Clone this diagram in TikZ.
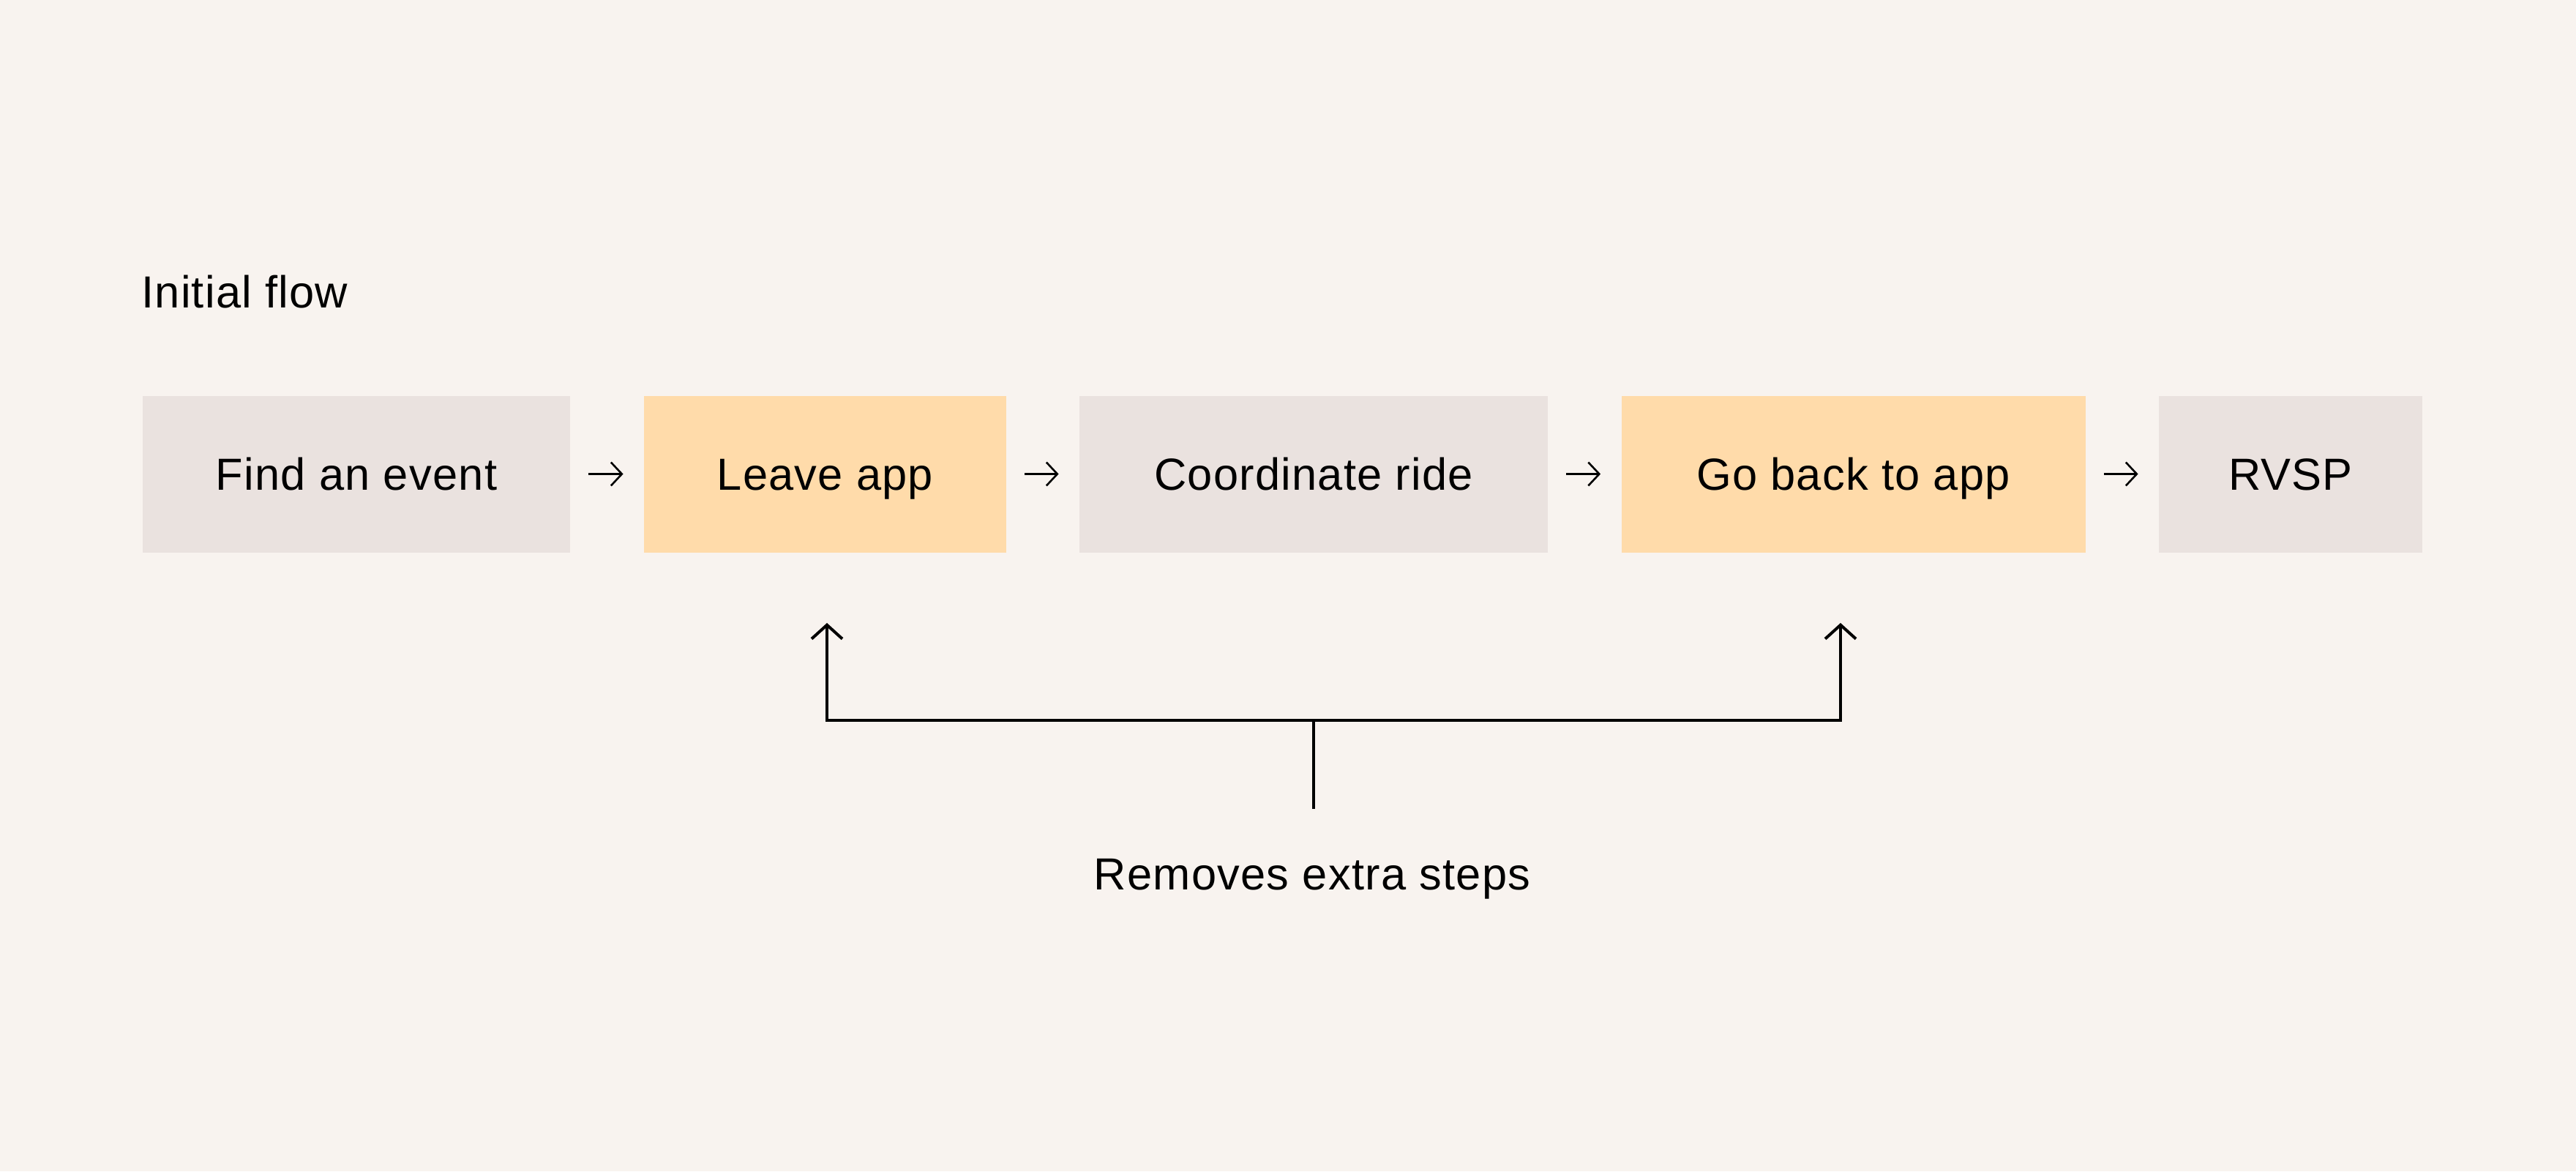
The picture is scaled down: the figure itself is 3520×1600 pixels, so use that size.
\documentclass[tikz,border=0pt]{standalone}
\usepackage{fontspec}
\setmainfont[LetterSpace=2.0]{Liberation Sans}
\usetikzlibrary{arrows.meta}
\definecolor{bgcol}{RGB}{248,243,239}
\definecolor{graybox}{RGB}{234,226,223}
\definecolor{orangebox}{RGB}{255,219,170}
\tikzset{
  stepbox/.style={rectangle, inner sep=0pt, minimum height=107pt,
    text height=22pt, text depth=0pt,
    font=\fontsize{30.7}{36}\selectfont, text=black},
  graystep/.style={stepbox, fill=graybox},
  orangestep/.style={stepbox, fill=orangebox},
  flowarrow/.style={draw=black, line width=1.3pt,
    -{Straight Barb[length=7.5pt,width=16pt]},
    shorten <=12.5pt, shorten >=14pt},
  bline/.style={draw=black, line width=2pt},
  barrow/.style={bline, -{Straight Barb[length=9.5pt,width=21pt]}},
  label/.style={inner sep=0pt, font=\fontsize{30.7}{36}\selectfont, text=black}
}
\begin{document}
\begin{tikzpicture}[x=0.5pt,y=-0.5pt]
\fill[bgcol] (0,0) rectangle (3520,1600);
\useasboundingbox (0,0) rectangle (3520,1600);

\node[label, anchor=base west] (title) at (193,420) {Initial flow};

\node[graystep, minimum width=292pt] (find) at (487,647.5) {Find an event};
\node[orangestep, minimum width=247.5pt] (leave) at (1127.5,647.5) {Leave app};
\node[graystep, minimum width=320pt] (coord) at (1795,647.5) {Coordinate ride};
\node[orangestep, minimum width=317pt] (back) at (2532.5,647.5) {Go back to app};
\node[graystep, minimum width=180pt] (rvsp) at (3130,647.5) {RVSP};

\draw[flowarrow] (find) -- (leave);
\draw[flowarrow] (leave) -- (coord);
\draw[flowarrow] (coord) -- (back);
\draw[flowarrow] (back) -- (rvsp);

\coordinate (hub) at (1795,984);
\coordinate (stemend) at (1795,1105);
\coordinate (tipL) at (1130,851);
\coordinate (tipR) at (2515,851);
\draw[bline] (stemend) -- (hub);
\draw[barrow] (hub) -| (tipL);
\draw[barrow] (hub) -| (tipR);

\node[label, anchor=base] (note) at (1793,1215) {Removes extra steps};
\end{tikzpicture}
\end{document}
